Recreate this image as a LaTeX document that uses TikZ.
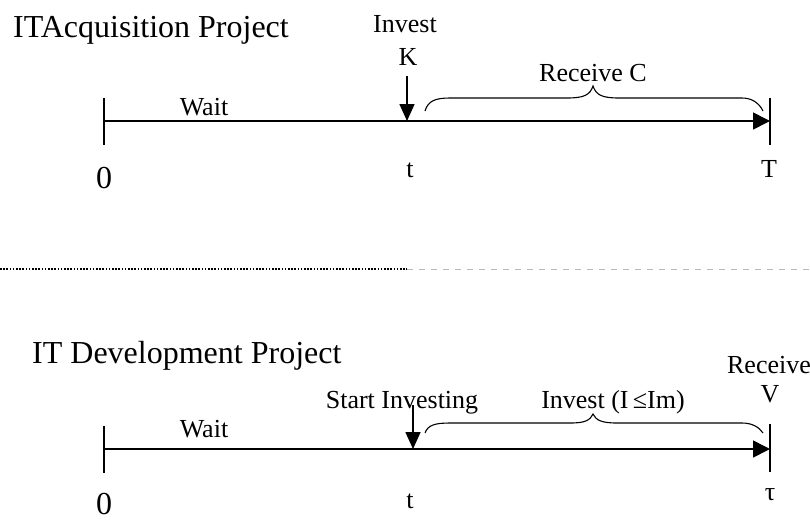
\documentclass[tikz,border=0pt]{standalone}
\usepackage{fontspec}
\setmainfont{Liberation Serif}
\usetikzlibrary{arrows.meta}
\tikzset{
  lbl/.style={inner sep=0pt, anchor=base, font=\fontsize{26}{30}\selectfont},
  big/.style={inner sep=0pt, anchor=base, font=\fontsize{32}{36}\selectfont},
  tick/.style={line width=1.6pt},
  mainarrow/.style={line width=1.6pt, -{Triangle[length=17pt,width=17pt]}},
  downarrow/.style={line width=1.6pt, -{Triangle[length=17pt,width=15pt]}},
  bracepath/.style={line width=1.1pt},
}
\begin{document}
\begin{tikzpicture}[x=1pt,y=-1pt]
\useasboundingbox (0,0) rectangle (810,520);
% ---------- top: IT Acquisition ----------
\node[big, anchor=base west] (title1) at (13,37) {ITAcquisition Project};
\coordinate (a0) at (104,121);
\coordinate (aT) at (770,121);
\coordinate (at) at (407,121);
\coordinate (atop) at (407,76);
\coordinate (a0u) at (104,98);
\coordinate (a0d) at (104,145);
\coordinate (aTu) at (770,98);
\coordinate (aTd) at (770,145);
\draw[tick] (a0u) -- (a0d);
\draw[tick] (aTu) -- (aTd);
\draw[mainarrow] (a0) -- (aT);
\draw[downarrow] (atop) -- (at);
\node[lbl] (inv1) at (405,32) {Invest};
\node[lbl] (k1) at (408,65) {K};
\node[lbl] (wait1) at (204,115) {Wait};
\node[lbl] (recC) at (593,81) {Receive C};
\node[big] (zero1) at (104,188) {0};
\node[lbl] (t1) at (410,177) {t};
\node[lbl] (T1) at (769,177) {T};
\draw[bracepath] (425,111) .. controls (428,101) and (435,98) .. (450,98) -- (567,98)
  .. controls (584,98) and (590,95) .. (593,86)
  .. controls (596,95) and (602,98) .. (619,98) -- (742,98)
  .. controls (752,98) and (759,103) .. (763,111);
% ---------- separator ----------
\coordinate (s0) at (0,269);
\coordinate (s1) at (407,269);
\coordinate (s2) at (810,269);
\draw[line width=1.2pt, dash pattern=on 1.6pt off 1.6pt] (s0) -- (s1);
\draw[line width=1pt, gray!55, dash pattern=on 6pt off 6pt] (s1) -- (s2);
% ---------- bottom: IT Development ----------
\node[big, anchor=base west] (title2) at (32,363) {IT Development Project};
\coordinate (b0) at (104,449);
\coordinate (bT) at (770,449);
\coordinate (bt) at (413,449);
\coordinate (btop) at (413,405);
\coordinate (b0u) at (104,426);
\coordinate (b0d) at (104,473);
\coordinate (bTu) at (770,424);
\coordinate (bTd) at (770,472);
\draw[tick] (b0u) -- (b0d);
\draw[tick] (bTu) -- (bTd);
\draw[mainarrow] (b0) -- (bT);
\draw[downarrow] (btop) -- (bt);
\node[lbl] (wait2) at (204,437) {Wait};
\node[lbl] (start) at (402,408) {Start Investing};
\node[lbl] (invI) at (613,408) {Invest (I\,≤Im)};
\node[lbl] (recv) at (769,373) {Receive};
\node[lbl] (V) at (770,402) {V};
\node[big] (zero2) at (104,514) {0};
\node[lbl] (t2) at (410,508) {t};
\node[lbl] (tau) at (770,500) {τ};
\draw[bracepath] (425,433) .. controls (428,425) and (435,423) .. (450,423) -- (570,423)
  .. controls (586,423) and (590,420) .. (593,414)
  .. controls (596,420) and (601,423) .. (617,423) -- (742,423)
  .. controls (752,423) and (759,427) .. (763,433);
\end{tikzpicture}
\end{document}
